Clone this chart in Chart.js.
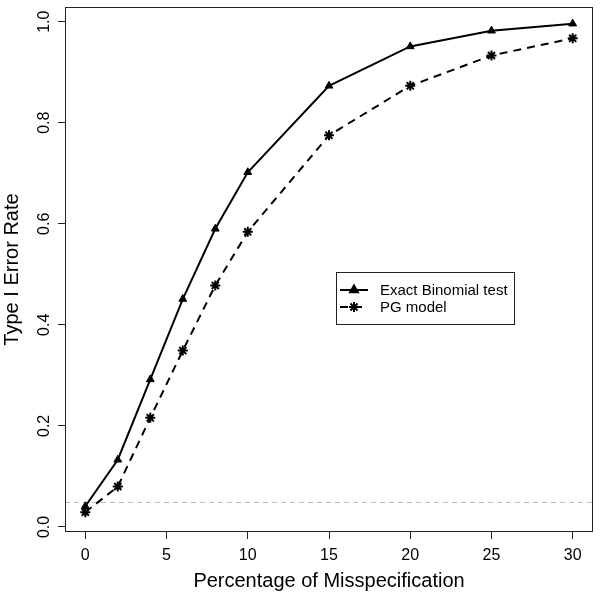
<!DOCTYPE html>
<html>
<head>
<meta charset="utf-8">
<script src="https://cdn.jsdelivr.net/npm/chart.js@4/dist/chart.umd.min.js"></script>
<style>
  html, body { margin: 0; padding: 0; background: #fff; }
  canvas { display: block; }
</style>
</head>
<body>
<canvas id="chart" width="600" height="594"></canvas>
<script>
// Data
const misspecification = [0, 2, 4, 6, 8, 10, 15, 20, 25, 30];
const exactBinomial = [0.041, 0.133, 0.292, 0.451, 0.590, 0.702, 0.873, 0.951, 0.982, 0.996];
const pgModel = [0.029, 0.080, 0.216, 0.349, 0.478, 0.584, 0.775, 0.873, 0.933, 0.967];
const seriesNames = ["Exact Binomial test", "PG model"];
const nominalLevel = 0.05;

const FONT = "'Liberation Sans', Arial, Helvetica, sans-serif";
Chart.defaults.font.family = FONT;
Chart.defaults.color = "#000";

const toPoints = ys => misspecification.map((x, i) => ({ x, y: ys[i] }));

// box, rotated y labels, reference line, legend
const rStyle = {
  id: "rStyle",
  beforeDatasetsDraw(chart) {
    const { ctx, chartArea: a, scales } = chart;
    const y = Math.round(scales.y.getPixelForValue(nominalLevel)) + 0.5;
    ctx.save();
    ctx.strokeStyle = "#bdbdbd";
    ctx.lineWidth = 1;
    ctx.setLineDash([5, 4]);
    ctx.beginPath();
    ctx.moveTo(a.left, y);
    ctx.lineTo(a.right, y);
    ctx.stroke();
    ctx.restore();
  },
  afterDraw(chart) {
    const { ctx, chartArea: a, scales } = chart;
    ctx.save();
    // plot box
    ctx.strokeStyle = "#222";
    ctx.lineWidth = 1;
    ctx.strokeRect(a.left + 0.5, a.top + 0.5, a.right - a.left - 1, a.bottom - a.top - 1);

    // y tick labels, rotated like R's default
    ctx.fillStyle = "#000";
    ctx.font = "16px " + FONT;
    ctx.textAlign = "center";
    ctx.textBaseline = "alphabetic";
    scales.y.ticks.forEach(t => {
      const py = scales.y.getPixelForValue(t.value);
      ctx.save();
      ctx.translate(49, py);
      ctx.rotate(-Math.PI / 2);
      ctx.fillText(t.value.toFixed(1), 0, 0);
      ctx.restore();
    });

    // legend
    const lx = 336.5, ly = 272.5, lw = 178, lh = 52;
    ctx.strokeStyle = "#222";
    ctx.strokeRect(lx, ly, lw, lh);
    ctx.font = "15px " + FONT;
    ctx.textAlign = "left";
    ctx.textBaseline = "middle";
    chart.data.datasets.forEach((ds, i) => {
      const ry = 290 + i * 17;
      ctx.save();
      ctx.strokeStyle = "#000";
      ctx.lineWidth = 2;
      ctx.setLineDash(ds.borderDash || []);
      ctx.beginPath();
      ctx.moveTo(340, ry);
      ctx.lineTo(368, ry);
      ctx.stroke();
      ctx.setLineDash([]);
      ctx.fillStyle = "#000";
      Chart.helpers.drawPoint(ctx, {
        pointStyle: ds.pointStyle,
        radius: ds.pointRadius,
        rotation: 0,
        borderWidth: ds.pointBorderWidth
      }, 354, ry);
      ctx.restore();
      ctx.fillText(ds.label, 380, ry + 1);
    });
    ctx.restore();
  }
};

new Chart(document.getElementById("chart"), {
  type: "scatter",
  data: {
    datasets: [
      {
        label: seriesNames[0],
        data: toPoints(exactBinomial),
        showLine: true,
        borderColor: "#000",
        backgroundColor: "#000",
        borderWidth: 2,
        pointStyle: "triangle",
        pointRadius: 4.5,
        pointBorderWidth: 1,
        pointBackgroundColor: "#000",
        pointBorderColor: "#000"
      },
      {
        label: seriesNames[1],
        data: toPoints(pgModel),
        showLine: true,
        borderColor: "#000",
        backgroundColor: "#000",
        borderWidth: 2,
        borderDash: [8, 6],
        pointStyle: "star",
        pointRadius: 5,
        pointBorderWidth: 2,
        pointBackgroundColor: "#000",
        pointBorderColor: "#000"
      }
    ]
  },
  options: {
    responsive: false,
    animation: false,
    devicePixelRatio: 1,
    layout: { padding: { top: 0, right: 1, left: 0, bottom: 0 } },
    plugins: {
      legend: { display: false },
      tooltip: { enabled: false }
    },
    scales: {
      x: {
        type: "linear",
        min: -1.25,
        max: 31.25,
        afterFit: s => { s.height = 62; },
        border: { display: false },
        grid: { drawOnChartArea: false, drawTicks: true, tickLength: 7, color: "#222" },
        ticks: { stepSize: 5, includeBounds: false, autoSkip: false, maxRotation: 0, padding: 7, font: { size: 16 } },
        title: { display: true, text: "Percentage of Misspecification", font: { size: 20 }, padding: { top: 0, bottom: 1 } }
      },
      y: {
        type: "linear",
        min: -0.01,
        max: 1.029,
        afterFit: s => { s.width = 65; },
        border: { display: false },
        grid: { drawOnChartArea: false, drawTicks: true, tickLength: 7, color: "#222" },
        ticks: { stepSize: 0.2, includeBounds: false, display: false },
        title: { display: true, text: "Type I Error Rate", font: { size: 20 }, padding: { top: 0, bottom: 0 } }
      }
    }
  },
  plugins: [rStyle]
});
</script>
</body>
</html>
